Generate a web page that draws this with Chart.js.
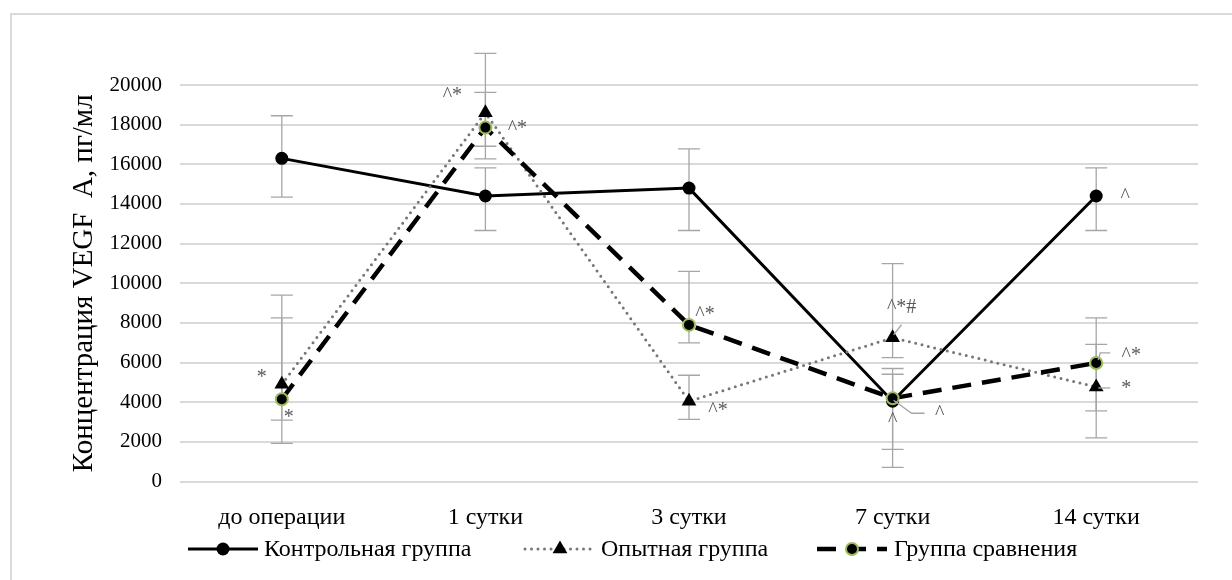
<!DOCTYPE html>
<html>
<head>
<meta charset="utf-8">
<script src="https://cdn.jsdelivr.net/npm/chart.js@4/dist/chart.umd.min.js"></script>
<style>
  html, body { margin: 0; padding: 0; background: #fff; }
  #wrap { position: relative; width: 1232px; height: 580px; }
</style>
</head>
<body>
<div id="wrap"><canvas id="c" width="1232" height="580"></canvas></div>
<script>
// Time points and y-axis ticks
const categories = ['до операции', '1 сутки', '3 сутки', '7 сутки', '14 сутки'];
const yTickStep = 2000;
const yMin = 0;
const yMax = 20000;

// Контрольная группа: mean and error-bar bounds
const controlValues = [16300, 14400, 14800, 4050, 14400];
const controlUpper  = [18450, 15820, 16780, 5700, 15820];
const controlLower  = [14340, 12660, 12660, 1620, 12660];

// Опытная группа
const experimentalValues = [4900, 18600, 4050, 7250, 4770];
const experimentalUpper  = [9400, 21600, 5360, 10990, 6920];
const experimentalLower  = [3100, 16270, 3130, 6250, 2200];

// Группа сравнения
const comparisonValues = [4150, 17850, 7900, 4200, 5980];
const comparisonUpper  = [8250, 19630, 10600, 5410, 8250];
const comparisonLower  = [1920, 16910, 6990, 715, 3560];

// Significance marks next to the points
const controlMarks      = ['', '', '', '^', '^'];
const experimentalMarks = ['*', '^*', '^*', '^*#', '*'];
const comparisonMarks   = ['*', '^*', '^*', '^', '^*'];

// Placement of the marks relative to their point (pixels): [dx, dy]
const markOffsets = {
  control:      [null, null, null, [0, 18], [29, -1]],
  experimental: [[-20, -9], [-33, -19], [29, 8], [9, -32], [30, 0]],
  comparison:   [[7, 17], [32, -1], [16, -12], [47, 14], [35, -9]]
};
// Short leader lines from a point towards its mark: list of [dx, dy] vertices
const markLeaders = {
  experimental: [null, null, null, [[1, -3], [9, -13]], [[2, 1], [14, 1]]],
  comparison:   [null, null, null, [[1, 2], [19, 15], [32, 15]], [[2, -3], [4, -10], [14, -10]]]
};

const SERIF = "'Liberation Serif', 'Times New Roman', serif";
const GREEN = '#9bbb59';
const ERR_COLOR = '#a6a6a6';
const MARK_COLOR = '#595959';

const datasets = [
  {
    label: 'Контрольная группа',
    data: controlValues,
    upper: controlUpper, lower: controlLower, marks: controlMarks, key: 'control',
    borderColor: '#000', backgroundColor: '#000', borderWidth: 3,
    pointStyle: 'circle', pointRadius: 6.5, pointBorderWidth: 0,
    pointBackgroundColor: '#000', tension: 0, order: 3
  },
  {
    label: 'Опытная группа',
    data: experimentalValues,
    upper: experimentalUpper, lower: experimentalLower, marks: experimentalMarks, key: 'experimental',
    borderColor: '#767676', borderWidth: 3, borderDash: [0, 6.5], borderCapStyle: 'round',
    pointStyle: 'triangle', pointRadius: 8.5, pointBorderWidth: 0,
    pointBackgroundColor: '#000', tension: 0, order: 2
  },
  {
    label: 'Группа сравнения',
    data: comparisonValues,
    upper: comparisonUpper, lower: comparisonLower, marks: comparisonMarks, key: 'comparison',
    borderColor: '#000', borderWidth: 4.5, borderDash: [19, 11],
    pointStyle: 'circle', pointRadius: 6, pointBorderWidth: 2,
    pointBorderColor: GREEN, pointBackgroundColor: '#000', tension: 0, order: 1
  }
];

// Vertical error bars with caps, drawn beneath the lines
const errorBars = {
  id: 'errorBars',
  beforeDatasetsDraw(chart) {
    const { ctx, scales: { x, y } } = chart;
    ctx.save();
    ctx.strokeStyle = ERR_COLOR;
    ctx.lineWidth = 1.3;
    const cap = 11;
    chart.data.datasets.forEach(ds => {
      ds.data.forEach((v, i) => {
        const px = x.getPixelForValue(i);
        const yt = y.getPixelForValue(ds.upper[i]);
        const yb = y.getPixelForValue(ds.lower[i]);
        ctx.beginPath();
        ctx.moveTo(px, yt); ctx.lineTo(px, yb);
        ctx.moveTo(px - cap, yt); ctx.lineTo(px + cap, yt);
        ctx.moveTo(px - cap, yb); ctx.lineTo(px + cap, yb);
        ctx.stroke();
      });
    });
    ctx.restore();
  }
};

// Significance marks and their leader lines
const marks = {
  id: 'marks',
  afterDatasetsDraw(chart) {
    const { ctx, scales: { x, y } } = chart;
    ctx.save();
    ctx.font = '20px ' + SERIF;
    ctx.fillStyle = MARK_COLOR;
    ctx.textAlign = 'center';
    ctx.textBaseline = 'middle';
    chart.data.datasets.forEach(ds => {
      ds.marks.forEach((m, i) => {
        if (!m) return;
        const px = x.getPixelForValue(i);
        const py = y.getPixelForValue(ds.data[i]);
        const leader = (markLeaders[ds.key] || [])[i];
        if (leader) {
          ctx.strokeStyle = ERR_COLOR;
          ctx.lineWidth = 1.3;
          ctx.beginPath();
          leader.forEach(([dx, dy], k) => k ? ctx.lineTo(px + dx, py + dy) : ctx.moveTo(px + dx, py + dy));
          ctx.stroke();
        }
        const [dx, dy] = markOffsets[ds.key][i];
        ctx.fillText(m, px + dx, py + dy + 2);
      });
    });
    ctx.restore();
  }
};

// Legend with line samples, plus the frame around the chart
const legendAndFrame = {
  id: 'legendAndFrame',
  afterDraw(chart) {
    const { ctx } = chart;
    ctx.save();
    // frame
    ctx.strokeStyle = '#d9d9d9';
    ctx.lineWidth = 2;
    ctx.beginPath();
    ctx.moveTo(11, 600); ctx.lineTo(11, 14); ctx.lineTo(1260, 14);
    ctx.stroke();

    const starts = [188, 525, 817];
    const ly = 549;
    const len = 70;
    chart.data.datasets.forEach((ds, i) => {
      const x0 = starts[i];
      const cx = x0 + len / 2;
      ctx.save();
      ctx.strokeStyle = ds.borderColor;
      ctx.lineWidth = ds.borderWidth;
      ctx.lineCap = ds.borderCapStyle || 'butt';
      ctx.setLineDash(ds.borderDash || []);
      ctx.beginPath();
      ctx.moveTo(x0, ly); ctx.lineTo(x0 + len, ly);
      ctx.stroke();
      ctx.restore();
      ctx.save();
      ctx.fillStyle = ds.pointBackgroundColor;
      ctx.strokeStyle = ds.pointBorderColor || ds.pointBackgroundColor;
      ctx.lineWidth = ds.pointBorderWidth;
      ctx.beginPath();
      if (ds.pointStyle === 'triangle') {
        const r = ds.pointRadius;
        ctx.moveTo(cx, ly - r);
        ctx.lineTo(cx + r * 0.87, ly + r * 0.5);
        ctx.lineTo(cx - r * 0.87, ly + r * 0.5);
        ctx.closePath();
        ctx.fill();
      } else {
        ctx.arc(cx, ly, ds.pointRadius, 0, Math.PI * 2);
        ctx.fill();
        if (ds.pointBorderWidth) ctx.stroke();
      }
      ctx.restore();
      ctx.fillStyle = '#000';
      ctx.font = '24px ' + SERIF;
      ctx.textAlign = 'left';
      ctx.textBaseline = 'middle';
      ctx.fillText(ds.label, x0 + len + (i === 2 ? 7 : 6), ly + 1);
    });
    ctx.restore();
  }
};

new Chart(document.getElementById('c').getContext('2d'), {
  type: 'line',
  data: { labels: categories, datasets },
  plugins: [errorBars, marks, legendAndFrame],
  options: {
    responsive: false,
    animation: false,
    layout: { padding: { top: 85, right: 34, left: 0, bottom: 0 } },
    plugins: { legend: { display: false }, tooltip: { enabled: false } },
    scales: {
      x: {
        offset: true,
        grid: { display: false },
        border: { display: false },
        ticks: { color: '#000', font: { family: SERIF, size: 24 }, padding: 14 },
        afterFit(scale) { scale.height = 98.5; }
      },
      y: {
        min: yMin, max: yMax,
        grid: { color: '#d9d9d9', lineWidth: 2, drawTicks: false },
        border: { display: false },
        ticks: {
          stepSize: yTickStep, color: '#000', padding: 18,
          font: { family: SERIF, size: 21 },
          callback: v => String(v)
        },
        title: {
          display: true, text: 'Концентрация VEGF  A, пг/мл', color: '#000',
          font: { family: SERIF, size: 29 }, padding: { top: 67, bottom: 0 }
        },
        afterFit(scale) { scale.width = 180; }
      }
    }
  }
});
</script>
</body>
</html>
